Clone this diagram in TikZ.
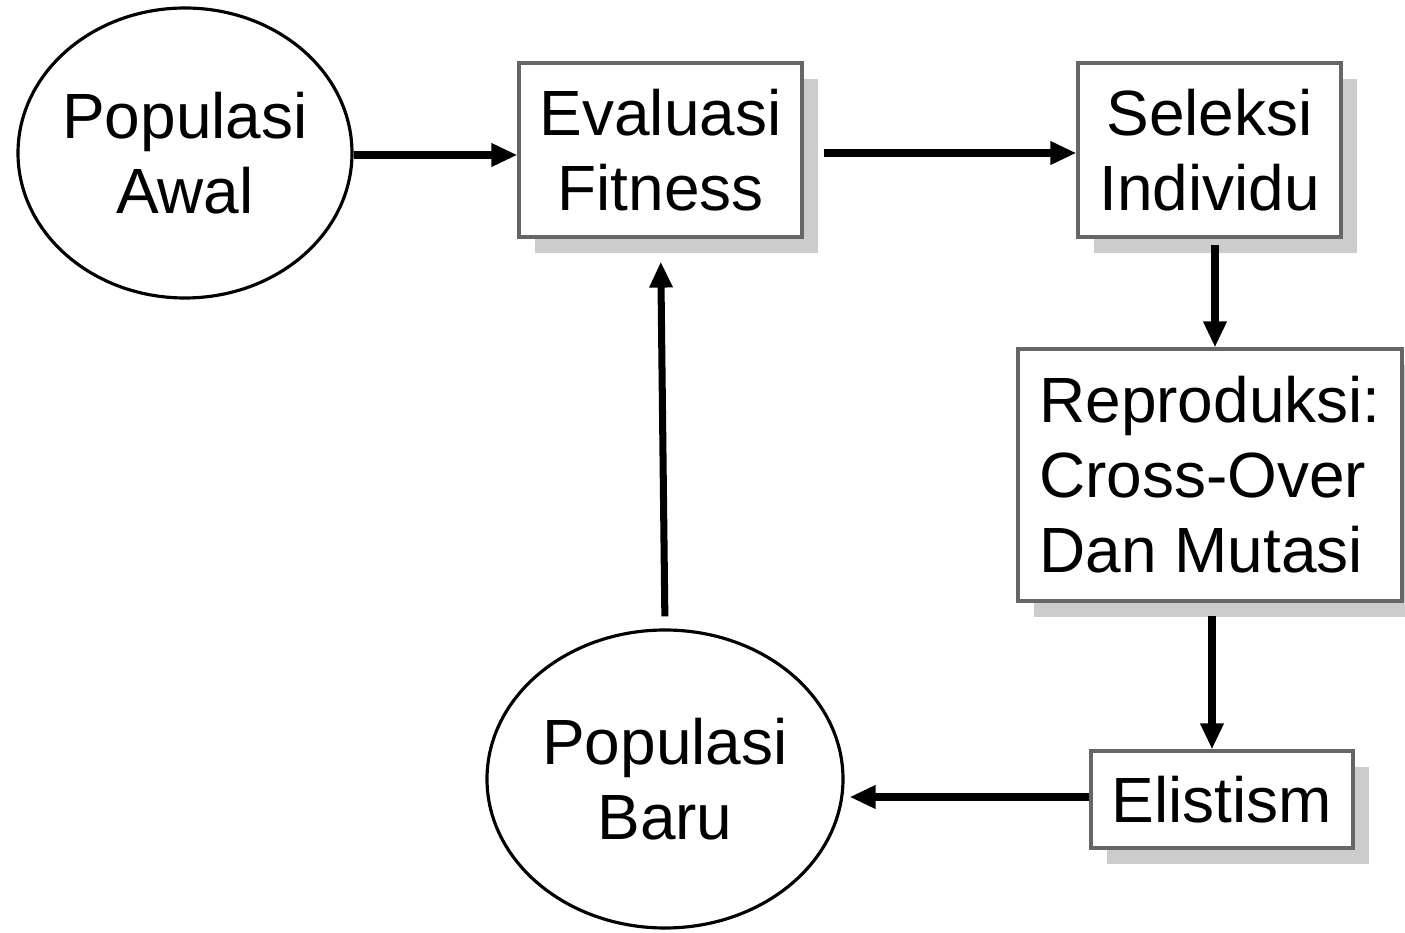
\documentclass[tikz,border=0pt]{standalone}
\usepackage{fontspec}
\setmainfont{Liberation Sans}
\usetikzlibrary{arrows.meta,shapes.geometric,shadows}
\tikzset{
	kotak/.style={draw=black!60,line width=0.9pt,fill=white,align=center,inner sep=0pt,
		drop shadow={shadow xshift=0.16cm,shadow yshift=-0.16cm,fill=gray!40,opacity=1}},
	elips/.style={draw=black,ellipse,line width=0.9pt,align=center,inner xsep=-0.4cm,inner ysep=0pt},
	panah/.style={line width=2pt,-{Triangle[length=0.26cm,width=0.22cm]}},
}
\begin{document}
\begin{tikzpicture}[font=\fontsize{18.2}{21.3}\selectfont]
	\useasboundingbox (0,0) rectangle (14.05,-9.33);
	\node[elips,minimum width=3.34cm,minimum height=2.9cm] (awal) at (1.85,-1.53) {Populasi\\Awal};
	\node[kotak,minimum width=2.83cm,minimum height=1.74cm] (eval) at (6.605,-1.50) {Evaluasi\\Fitness};
	\node[kotak,minimum width=2.63cm,minimum height=1.74cm] (seleksi) at (12.095,-1.50) {Seleksi\\Individu};
	\node[kotak,minimum width=3.84cm,minimum height=2.52cm,align=left] (repro) at (12.10,-4.75) {Reproduksi:\\Cross-Over\\Dan Mutasi};
	\node[kotak,minimum width=2.62cm,minimum height=0.97cm] (elit) at (12.22,-7.995) {Elistism};
	\node[elips,minimum width=3.56cm,minimum height=2.98cm] (baru) at (6.65,-7.79) {Populasi\\Baru};
	% panah
	\draw[panah] (awal.east|-0,-1.55) -- (eval.west|-0,-1.55);
	\draw[panah,shorten <=0.2cm] (eval.east|-0,-1.53) -- (seleksi.west|-0,-1.53);
	\draw[panah,shorten <=0.06cm] (seleksi.south-|12.15,0) -- (repro.north-|12.15,0);
	\draw[panah,shorten <=0.13cm] (repro.south-|12.12,0) -- (elit.north-|12.12,0);
	\draw[panah,shorten >=0.05cm] (elit.west|-0,-7.97) -- (baru.east|-0,-7.97);
	\draw[panah,shorten <=0.12cm,shorten >=0.23cm] (baru.north) -- (eval.south);
\end{tikzpicture}
\end{document}
